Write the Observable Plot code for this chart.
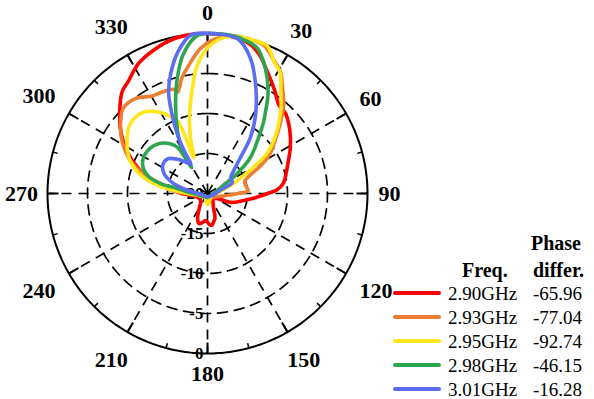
<!DOCTYPE html>
<html><head><meta charset="utf-8">
<script src="https://cdn.jsdelivr.net/npm/d3@7"></script>
<script src="https://cdn.jsdelivr.net/npm/@observablehq/plot@0.6"></script>
<style>
body{margin:0;background:#fff;}
#wrap{position:relative;width:594px;height:399px;font-family:"Liberation Serif","Times New Roman",serif;color:#000;}
.t{position:absolute;white-space:nowrap;line-height:1;}
.b{font-weight:bold;font-size:20px;}
.n{font-size:19px;}
.sw{position:absolute;height:4px;border-radius:2px;}
</style></head><body><div id="wrap"></div>
<script>
// ---- data ----
const freqs = ["2.90GHz","2.93GHz","2.95GHz","2.98GHz","3.01GHz"];
const phases = ["-65.96","-77.04","-92.74","-46.15","-16.28"];
const colors = ["#ff0000","#ed7d31","#ffe51a","#2ea650","#5b6ef2"];
const angleTicks = [0,30,60,90,120,150,180,210,240,270,300,330];
const radialTicks = [-20,-15,-10,-5,0];
// [theta (deg, clockwise from top), gain (dB)]
const p290 = [[-180,-16.4],[-176,-16.6],[-170,-16.3],[-164,-16.1],[-158,-16.7],[-150,-18.0],[-140,-18.7],[-120,-18.8],[-98,-18.2],[-91,-17.0],[-85,-15.6],[-79,-13.6],[-71,-11.1],[-63,-8.8],[-55,-6.8],[-47,-5.0],[-40,-3.4],[-35,-2.8],[-28,-1.6],[-20,-0.8],[-12,-0.2],[-4,0],[4,-0.05],[10,-0.2],[16,-0.6],[21,-1.6],[26,-3.0],[33,-4.6],[39,-5.8],[44,-6.0],[50,-6.7],[56,-7.5],[62,-8.3],[68,-9.1],[75,-9.8],[82,-10.4],[87,-11.3],[90,-12.5],[95,-14.0],[101,-15.4],[111,-16.9],[117,-18.6],[135,-19.0],[150,-18.6],[157,-18.1],[163,-16.8],[167.5,-16.4],[172,-16.0],[176,-16.1]];
const p293 = [[-180,-19.3],[-150,-19.4],[-120,-19.2],[-97,-18.6],[-90,-18.0],[-84,-16.6],[-78,-14.0],[-72.6,-11.6],[-66.8,-9.5],[-59.5,-7.7],[-52.8,-6.35],[-44.5,-5.0],[-37,-5.1],[-33,-5.6],[-29.4,-6.0],[-24,-6.1],[-18,-6.3],[-16.5,-6.8],[-12.5,-5.2],[-7.4,-3.5],[-3,-1.9],[2,-0.8],[6,-0.3],[10,0],[16,0],[21,-0.2],[26,-1.3],[31,-2.3],[36,-4.0],[41,-5.5],[47,-7.7],[52,-9.3],[57,-10.6],[62,-12.3],[66,-14.0],[72,-15.1],[79,-15.1],[86,-14.9],[90,-16.2],[96,-17.6],[110,-18.8],[140,-19.3]];
const p295 = [[-180,-18.6],[-165,-19.2],[-140,-19.5],[-115,-19.3],[-98,-18.6],[-91,-17.6],[-86,-16.3],[-82,-14.4],[-76,-11.8],[-67,-9.5],[-57,-8.0],[-48,-7.0],[-38,-7.1],[-30,-8.3],[-25.5,-9.4],[-22.3,-10.3],[-21,-15.2],[-17,-12.7],[-13,-10.0],[-10.7,-8.5],[-8,-6.6],[-5.6,-4.6],[-2,-2.6],[2,-1.2],[6,-0.4],[11,0],[17,0],[22,-0.1],[27,-1.6],[31,-2.4],[36,-4.4],[41,-6.0],[47,-8.0],[51,-9.3],[56,-11.0],[60,-13.3],[63,-14.8],[67,-16.0],[75,-17.8],[90,-18.9],[120,-19.4],[150,-19.3],[170,-18.8]];
const p298 = [[-180,-19.5],[-150,-19.5],[-120,-19.3],[-97,-18.8],[-86,-17.6],[-80.5,-16.2],[-78,-14.0],[-73.3,-12.2],[-65.2,-11.05],[-54.4,-10.8],[-43.2,-11.4],[-36,-12.4],[-33.1,-13.1],[-31.5,-16.2],[-30.2,-13.8],[-25.5,-11.3],[-19.6,-8.1],[-14.5,-5.0],[-9.7,-2.25],[-3.6,-0.2],[2,0],[8,0],[14,-0.3],[19,-0.8],[24.9,-2.8],[31,-5.3],[35,-7.3],[38,-8.6],[42.3,-10.5],[50,-13.0],[56,-15.5],[63,-17.8],[80,-19.0],[120,-19.5]];
const p301 = [[-180,-19.6],[-140,-19.6],[-110,-19.4],[-92,-19.0],[-82,-17.8],[-76,-16.2],[-71,-15.0],[-66,-14.1],[-58,-13.4],[-49,-13.4],[-42,-14.2],[-35,-15.2],[-29.5,-15.8],[-28.8,-14.3],[-27.4,-12.1],[-24,-9.0],[-21.1,-6.5],[-17.4,-4.5],[-12,-2.0],[-6,-0.1],[2,0],[11,-0.3],[17.7,-2.3],[24,-5.2],[31.6,-8.55],[37.5,-11.2],[42.5,-13.9],[51,-16.0],[56,-16.5],[66,-16.6],[70,-17.3],[76,-18.4],[95,-19.1],[130,-19.5]];
const patterns = [p290, p293, p295, p298, p301];

// ---- build ----
const rMin = radialTicks[0], rMax = radialTicks[radialTicks.length-1];
const rad = d => d*Math.PI/180;
const toR = db => (db - rMin)/(rMax - rMin);
const rows = [];
patterns.forEach((s,i)=> s.forEach(([t,db]) => rows.push({freq:freqs[i], theta:t, db,
  px: toR(db)*Math.sin(rad(t)), py: toR(db)*Math.cos(rad(t))})));

const circ = [];
radialTicks.slice(1).forEach(v => { for (let a=0;a<=360;a+=1) circ.push({v, a, px: toR(v)*Math.sin(rad(a)), py: toR(v)*Math.cos(rad(a))}); });
const minor = angleTicks.map(a => a+15);
const labR = d => 1.128 + (String(d).length===3 ? 0.035 : 0.01)*Math.abs(Math.sin(rad(d)))
                 + (String(d).length===3 ? 0.0675 : 0.045)*Math.abs(Math.sin(rad(2*d)));

const chart = Plot.plot({
  width: 594, height: 399,
  marginLeft: 47, marginRight: 227, marginTop: 33, marginBottom: 46,
  x: {domain: [-1,1], axis: null},
  y: {domain: [-1,1], axis: null},
  color: {domain: freqs, range: colors},
  style: {fontFamily: "Liberation Serif, Times New Roman, serif", background: "white", overflow: "visible"},
  marks: [
    Plot.line(circ.filter(d => d.v < rMax), {x:"px", y:"py", z:"v", stroke:"black", strokeWidth:1.7, strokeDasharray:"10,7"}),
    Plot.link(angleTicks, {x1: d=>0, y1: d=>0, x2: d=>Math.sin(rad(d)), y2: d=>Math.cos(rad(d)), stroke:"black", strokeWidth:1.7, strokeDasharray:"10,7"}),
    Plot.line(circ.filter(d => d.v === rMax), {x:"px", y:"py", stroke:"black", strokeWidth:2}),
    Plot.link(angleTicks, {x1: d=>Math.sin(rad(d)), y1: d=>Math.cos(rad(d)), x2: d=>(1-11/160)*Math.sin(rad(d)), y2: d=>(1-11/160)*Math.cos(rad(d)), stroke:"black", strokeWidth:2}),
    Plot.link(minor, {x1: d=>Math.sin(rad(d)), y1: d=>Math.cos(rad(d)), x2: d=>(1-5/160)*Math.sin(rad(d)), y2: d=>(1-5/160)*Math.cos(rad(d)), stroke:"black", strokeWidth:1.5}),
    Plot.text(angleTicks, {
      x: d => labR(d)*Math.sin(rad(d)),
      y: d => labR(d)*Math.cos(rad(d)),
      text: d => String(d), fontSize: 22, fontWeight: "bold", fill: "black"}),
    Plot.text(radialTicks, {x: d=>0, y: d=>-toR(d), text: d=>String(d), textAnchor:"end", dx:-4, fontSize:17, fontWeight:"bold", fill:"black"}),
    Plot.line(rows, {x:"px", y:"py", z:"freq", stroke:"freq", strokeWidth:3.6, curve:"catmull-rom-closed", strokeLinejoin:"round"})
  ]
});
const wrap = document.getElementById("wrap");
wrap.appendChild(chart);

// ---- legend ----
function add(cls, txt, left, top){ const e=document.createElement("div"); e.className="t "+cls; e.textContent=txt; e.style.left=left+"px"; e.style.top=top+"px"; wrap.appendChild(e); return e; }
add("b","Phase",531,233);
add("b","differ.",533,260);
add("b","Freq.",462,260);
freqs.forEach((f,i)=>{
  const y = 293 + i*24;
  const s = document.createElement("div"); s.className="sw"; s.style.left="393px"; s.style.width="48px"; s.style.top=(y-2)+"px"; s.style.background=colors[i]; wrap.appendChild(s);
  add("n", f, 448, y-9);
  add("n", phases[i], 533, y-9);
});
</script></body></html>
